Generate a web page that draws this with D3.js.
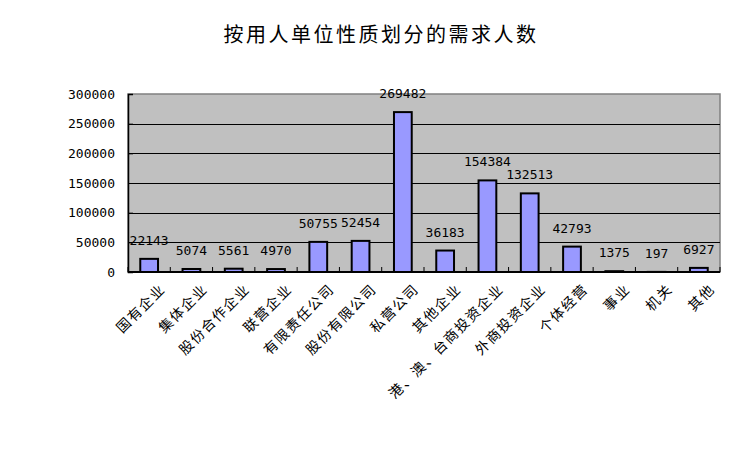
<!DOCTYPE html>
<html><head><meta charset="utf-8">
<script src="https://cdn.jsdelivr.net/npm/d3@7"></script>
<style>body{margin:0;background:#fff;}svg{display:block;}</style>
</head><body>
<svg id="c" width="737" height="469"></svg>
<script>
const title = "按用人单位性质划分的需求人数";
const categories = ["国有企业","集体企业","股份合作企业","联营企业","有限责任公司","股份有限公司","私营公司","其他企业","港、澳、台商投资企业","外商投资企业","个体经营","事业","机关","其他"];
const values = [22143,5074,5561,4970,50755,52454,269482,36183,154384,132513,42793,1375,197,6927];
const yTicks = [0,50000,100000,150000,200000,250000,300000];

const svg = d3.select("#c");
const L = 128, R = 720, T = 94, B = 272;
const x = d3.scaleBand().domain(categories).range([L, R]).padding(0);
const y = d3.scaleLinear().domain([0, 300000]).range([B, T]);

svg.append("rect").attr("width",737).attr("height",469).attr("fill","#fff");
svg.append("text").attr("x",381).attr("y",42).attr("text-anchor","middle")
  .attr("font-family","Noto Sans CJK SC").attr("font-size",20).attr("letter-spacing","2.5px")
  .attr("fill","#000").text(title);

// plot area
svg.append("rect").attr("x",L).attr("y",T).attr("width",R-L).attr("height",B-T)
  .attr("fill","#c0c0c0").attr("stroke","#808080").attr("stroke-width",1.5);

// gridlines
svg.append("g").selectAll("line").data(yTicks.filter(d=>d>0 && d<300000)).join("line")
  .attr("x1",L).attr("x2",R).attr("y1",d=>Math.round(y(d))+0.5).attr("y2",d=>Math.round(y(d))+0.5)
  .attr("stroke","#000").attr("stroke-width",1);

// y axis
const ya = svg.append("g").attr("transform",`translate(${L},0)`)
  .call(d3.axisLeft(y).tickValues(yTicks).tickSize(-5).tickPadding(13).tickFormat(d3.format("d")));
ya.select(".domain").attr("stroke","#000").attr("stroke-width",1.5);
ya.selectAll(".tick line").attr("stroke","#000");
ya.selectAll("text").attr("font-family","DejaVu Sans Mono").attr("font-size",13).attr("fill","#000");

// x axis boundary ticks
const step = x.step();
const bounds = d3.range(categories.length+1).map(i=>L+i*step);
svg.append("g").selectAll("line").data(bounds).join("line")
  .attr("x1",d=>d).attr("x2",d=>d).attr("y1",B).attr("y2",B-5).attr("stroke","#000");
svg.append("line").attr("x1",L).attr("x2",R).attr("y1",B).attr("y2",B).attr("stroke","#000").attr("stroke-width",2);

// bars
const bw = step*0.42;
svg.append("g").selectAll("rect").data(values).join("rect")
  .attr("x",(d,i)=>x(categories[i])+step/2-bw/2)
  .attr("y",d=>y(d))
  .attr("width",bw)
  .attr("height",d=>B-y(d))
  .attr("fill","#9999ff").attr("stroke","#000").attr("stroke-width",2);

// value labels
svg.append("g").selectAll("text").data(values).join("text")
  .attr("x",(d,i)=>x(categories[i])+step/2)
  .attr("y",d=>y(d)-14)
  .attr("text-anchor","middle")
  .attr("font-family","DejaVu Sans Mono").attr("font-size",13).attr("fill","#000")
  .text(d=>d);

// category labels
svg.append("g").selectAll("text").data(categories).join("text")
  .attr("transform",d=>`translate(${x(d)+step/2+13},${B+14}) rotate(-45)`)
  .attr("text-anchor","end").attr("dy","0.4em")
  .attr("font-family","Noto Sans CJK SC").attr("font-size",14).attr("letter-spacing","1.5px")
  .attr("fill","#000").text(d=>d);
</script>
</body></html>
